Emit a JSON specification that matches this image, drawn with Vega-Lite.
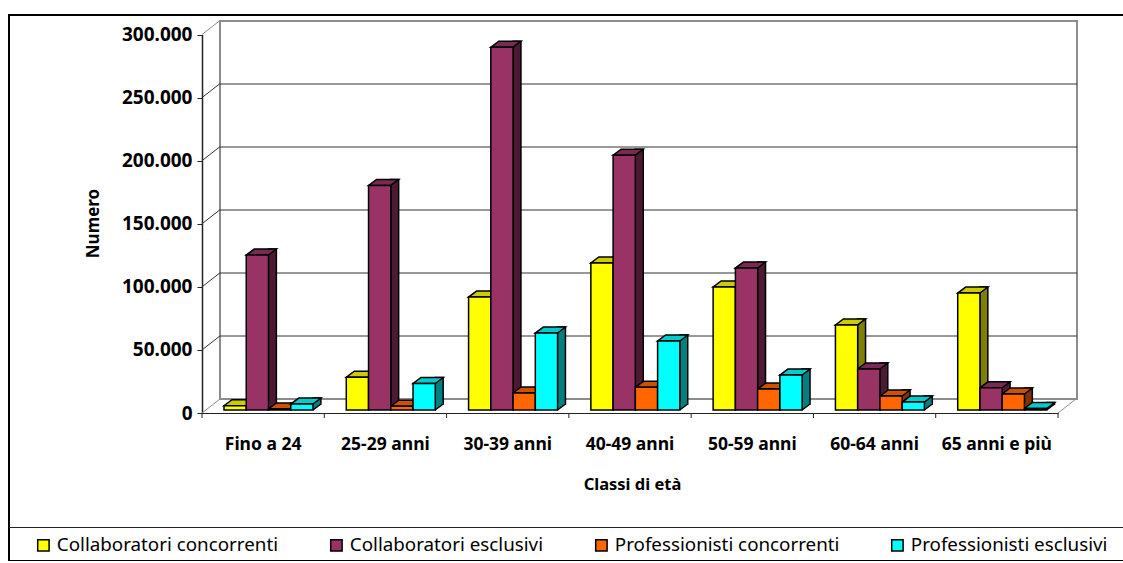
{"$schema":"https://vega.github.io/schema/vega-lite/v6.json","autosize":{"type":"none"},"padding":{"left":9,"top":15,"right":0,"bottom":0},"width":1116,"height":546,"background":"white","view":{"stroke":"black","strokeWidth":2,"fill":"white"},
"config":{"font":"Noto Sans"},
"datasets":{"bars":[
{"classe":"Fino a 24","serie":"Collaboratori concorrenti","numero":3400},{"classe":"Fino a 24","serie":"Collaboratori esclusivi","numero":122800},{"classe":"Fino a 24","serie":"Professionisti concorrenti","numero":800},{"classe":"Fino a 24","serie":"Professionisti esclusivi","numero":4700},
{"classe":"25-29 anni","serie":"Collaboratori concorrenti","numero":26000},{"classe":"25-29 anni","serie":"Collaboratori esclusivi","numero":178000},{"classe":"25-29 anni","serie":"Professionisti concorrenti","numero":3000},{"classe":"25-29 anni","serie":"Professionisti esclusivi","numero":21000},
{"classe":"30-39 anni","serie":"Collaboratori concorrenti","numero":89500},{"classe":"30-39 anni","serie":"Collaboratori esclusivi","numero":287600},{"classe":"30-39 anni","serie":"Professionisti concorrenti","numero":13500},{"classe":"30-39 anni","serie":"Professionisti esclusivi","numero":61000},
{"classe":"40-49 anni","serie":"Collaboratori concorrenti","numero":116500},{"classe":"40-49 anni","serie":"Collaboratori esclusivi","numero":202000},{"classe":"40-49 anni","serie":"Professionisti concorrenti","numero":18000},{"classe":"40-49 anni","serie":"Professionisti esclusivi","numero":54700},
{"classe":"50-59 anni","serie":"Collaboratori concorrenti","numero":97500},{"classe":"50-59 anni","serie":"Collaboratori esclusivi","numero":112500},{"classe":"50-59 anni","serie":"Professionisti concorrenti","numero":16600},{"classe":"50-59 anni","serie":"Professionisti esclusivi","numero":27700},
{"classe":"60-64 anni","serie":"Collaboratori concorrenti","numero":67400},{"classe":"60-64 anni","serie":"Collaboratori esclusivi","numero":32500},{"classe":"60-64 anni","serie":"Professionisti concorrenti","numero":11000},{"classe":"60-64 anni","serie":"Professionisti esclusivi","numero":6300},
{"classe":"65 anni e più","serie":"Collaboratori concorrenti","numero":92700},{"classe":"65 anni e più","serie":"Collaboratori esclusivi","numero":17600},{"classe":"65 anni e più","serie":"Professionisti concorrenti","numero":12700},{"classe":"65 anni e più","serie":"Professionisti esclusivi","numero":1200}],
"ticks":[{"v":0},{"v":50000},{"v":100000},{"v":150000},{"v":200000},{"v":250000},{"v":300000}],
"xticks":[{"t":0},{"t":1},{"t":2},{"t":3},{"t":4},{"t":5},{"t":6},{"t":7}],
"one":[{"a":1}]},
"resolve":{"scale":{"x":"independent","y":"independent","color":"independent","xOffset":"independent"},"axis":{"x":"independent","y":"independent"}},
"layer":[
{"data":{"name":"one"},"mark":{"type":"rect","fill":"white","stroke":"#8c8c8c","strokeWidth":2},"encoding":{"x":{"datum":0,"type":"quantitative","scale":{"domain":[0,1],"range":[211,1068]},"axis":null},"x2":{"datum":1},"y":{"datum":0,"type":"quantitative","scale":{"domain":[0,300000],"range":[384,6]},"axis":null},"y2":{"datum":300000}}},
{"data":{"name":"ticks"},"transform":[{"filter":"datum.v>0&&datum.v<300000"}],"mark":{"type":"rule","stroke":"#333333","strokeWidth":1},"encoding":{"x":{"datum":0,"type":"quantitative","scale":{"domain":[0,1],"range":[211,1068]},"axis":null},"x2":{"datum":1},"y":{"field":"v","type":"quantitative","scale":{"domain":[0,300000],"range":[384,6]},"axis":null}}},
{"data":{"name":"ticks"},"mark":{"type":"point","shape":"M0,0L18,-14","size":4,"filled":false,"opacity":1,"strokeWidth":1},"encoding":{"stroke":{"condition":{"test":"datum.v==0||datum.v==300000","value":"#8c8c8c"},"value":"#333333"},
"x":{"datum":0,"type":"quantitative","scale":{"domain":[0,7],"range":[193,1049]},"axis":null},
"y":{"field":"v","type":"quantitative","scale":{"domain":[0,300000],"range":[398,19.5]},"axis":{"values":[0,50000,100000,150000,200000,250000,300000],"grid":false,"offset":-193,"tickSize":5,"tickColor":"#222222","domainColor":"#222222","domainWidth":1.5,"labelFont":"Noto Sans","labelFontWeight":"bold","labelFontSize":19,"labelColor":"black","labelPadding":5,"labelExpr":"replace(format(datum.value,','),',','.')","title":"Numero","titleFont":"Noto Sans","titleFontWeight":"bold","titleFontSize":17,"titleColor":"black","titleX":-100,"titleY":208,"titleAngle":-90,"titleLetterSpacing":3}}}},
{"data":{"name":"one"},"mark":{"type":"point","shape":"M0,0L18,-14","size":4,"filled":false,"opacity":1,"stroke":"#8c8c8c","strokeWidth":1},"encoding":{"x":{"datum":7,"type":"quantitative","scale":{"domain":[0,7],"range":[193,1049]},"axis":null},"y":{"datum":0,"type":"quantitative","scale":{"domain":[0,300000],"range":[398,19.5]},"axis":null}}},
{"data":{"name":"xticks"},"mark":{"type":"point","shape":"M0,0L0,5","size":4,"filled":false,"opacity":1,"stroke":"#222222","strokeWidth":1},"encoding":{"x":{"field":"t","type":"quantitative","scale":{"domain":[0,7],"range":[193,1049]},"axis":null},"y":{"datum":0,"type":"quantitative","scale":{"domain":[0,300000],"range":[398,19.5]},"axis":null}}},
{"data":{"name":"bars"},"mark":{"type":"bar","width":8,"stroke":"black","strokeWidth":1.5},"encoding":{
"x":{"field":"classe","type":"nominal","sort":null,"scale":{"range":[193,1049],"paddingInner":0,"paddingOuter":0},"axis":null},
"xOffset":{"field":"serie","type":"nominal","sort":null,"scale":{"range":[37,126],"paddingInner":0,"paddingOuter":0}},
"y":{"field":"numero","type":"quantitative","scale":{"domain":[0,300000],"range":[389,10.5]},"axis":null},
"color":{"field":"serie","type":"nominal","sort":null,"scale":{"range":["#808000","#4d1a33","#803300","#008080"]},"legend":null}}},
{"data":{"name":"bars"},"mark":{"type":"point","shape":"M22.2,0L29.7,-5.6L29.7,-7.4L22.2,-7.4Z","size":4,"filled":true,"opacity":1,"strokeWidth":0},"encoding":{
"x":{"field":"classe","type":"nominal","sort":null,"scale":{"range":[193,1049],"paddingInner":0,"paddingOuter":0},"axis":null},
"xOffset":{"field":"serie","type":"nominal","sort":null,"scale":{"type":"point","padding":0,"range":[22,88.75]}},
"y":{"datum":0,"type":"quantitative","scale":{"domain":[0,300000],"range":[395,16.5]},"axis":null},
"color":{"field":"serie","type":"nominal","sort":null,"scale":{"range":["#808000","#4d1a33","#803300","#008080"]},"legend":null}}},
{"data":{"name":"bars"},"mark":{"type":"point","shape":"M22.2,0L30.2,-6","size":4,"filled":false,"opacity":1,"stroke":"black","strokeWidth":1.5},"encoding":{
"x":{"field":"classe","type":"nominal","sort":null,"scale":{"range":[193,1049],"paddingInner":0,"paddingOuter":0},"axis":null},
"xOffset":{"field":"serie","type":"nominal","sort":null,"scale":{"type":"point","padding":0,"range":[22,88.75]}},
"y":{"datum":0,"type":"quantitative","scale":{"domain":[0,300000],"range":[395,16.5]},"axis":null}}},
{"data":{"name":"bars"},"mark":{"type":"point","shape":"M0,0L22.2,0L30.2,-6L8,-6Z","size":4,"filled":true,"opacity":1,"stroke":"black","strokeWidth":1.5},"encoding":{
"x":{"field":"classe","type":"nominal","sort":null,"scale":{"range":[193,1049],"paddingInner":0,"paddingOuter":0},"axis":null},
"xOffset":{"field":"serie","type":"nominal","sort":null,"scale":{"type":"point","padding":0,"range":[22,88.75]}},
"y":{"field":"numero","type":"quantitative","scale":{"domain":[0,300000],"range":[395,16.5]},"axis":null},
"color":{"field":"serie","type":"nominal","sort":null,"scale":{"range":["#cccc00","#7a2952","#cc5200","#00cccc"]},"legend":null}}},
{"data":{"name":"bars"},"mark":{"type":"bar","stroke":"black","strokeWidth":1.5},"encoding":{
"x":{"field":"classe","type":"nominal","sort":null,"scale":{"range":[193,1049],"paddingInner":0,"paddingOuter":0},"axis":{"offset":-148,"domain":true,"domainColor":"#222222","domainWidth":1,"ticks":false,"labelAngle":0,"labelFont":"Noto Sans","labelFontWeight":"bold","labelFontSize":17.5,"labelColor":"black","labelPadding":22,"title":"Classi di età","titleFont":"Noto Sans","titleFontWeight":"bold","titleFontSize":16.5,"titleColor":"black","titleX":623,"titleY":63}},
"xOffset":{"field":"serie","type":"nominal","sort":null,"scale":{"range":[22,111],"paddingInner":0,"paddingOuter":0}},
"y":{"field":"numero","type":"quantitative","scale":{"domain":[0,300000],"range":[395,16.5]},"axis":null},
"color":{"field":"serie","type":"nominal","sort":null,"scale":{"range":["#ffff00","#993366","#ff6600","#00ffff"]},"legend":{"orient":"none","legendX":25,"legendY":521,"direction":"horizontal","columns":4,"gridAlign":"none","columnPadding":48,"title":null,"symbolType":"square","symbolSize":130,"symbolStrokeColor":"black","symbolStrokeWidth":1.5,"symbolOpacity":1,"labelFont":"Noto Sans","labelFontSize":18.8,"labelColor":"black","labelLimit":300,"labelOffset":4}}}},
{"data":{"name":"one"},"mark":{"type":"rule","stroke":"#222222","strokeWidth":1},"encoding":{"x":{"datum":0,"type":"quantitative","scale":{"domain":[0,1],"range":[0,1116]},"axis":null},"x2":{"datum":1},"y":{"datum":33.5,"type":"quantitative","scale":{"domain":[0,546],"range":[546,0]},"axis":null}}}
]}
